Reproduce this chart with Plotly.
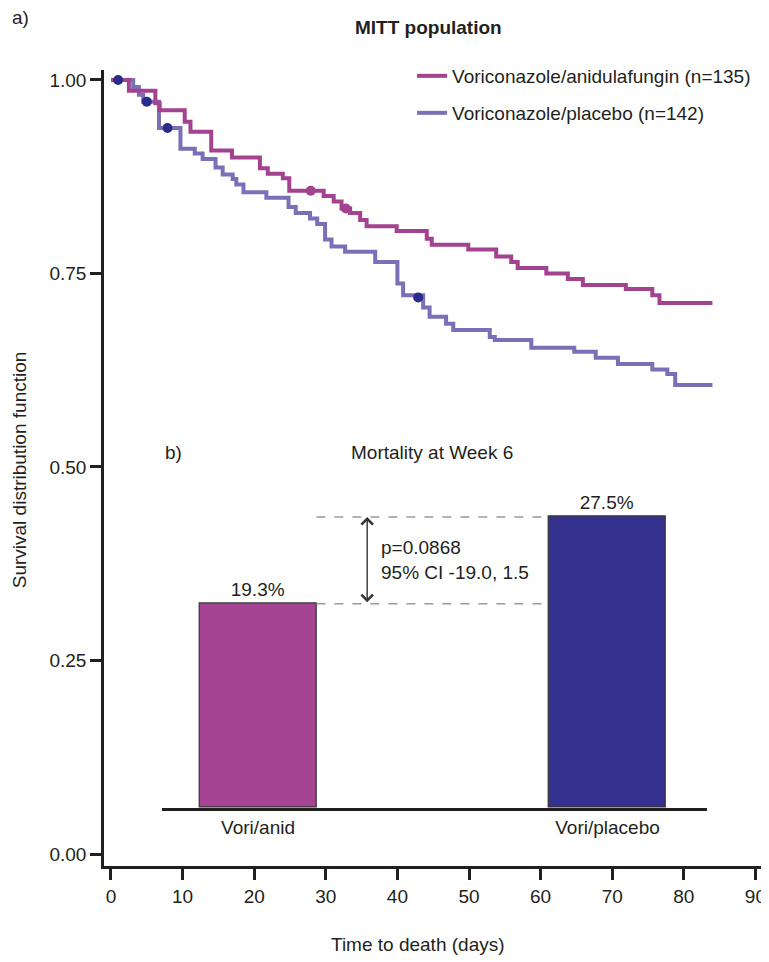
import plotly.graph_objects as go

# ---------------- data ----------------
anid_t = [0, 2.5, 6.2, 6.8, 10.3, 11.1, 14.0, 16.9, 20.8, 21.9, 24.0, 24.9,
          29.7, 31.1, 32.2, 33.4, 34.8, 35.7, 39.9, 44.1, 44.8, 49.9, 53.8,
          55.9, 56.8, 60.8, 63.8, 65.9, 71.9, 75.6, 76.6, 84.0]
anid_s = [1.000, 0.986, 0.970, 0.961, 0.946, 0.933, 0.909, 0.900, 0.886, 0.879,
          0.873, 0.857, 0.850, 0.843, 0.834, 0.828, 0.819, 0.811, 0.805, 0.795,
          0.787, 0.781, 0.772, 0.765, 0.757, 0.750, 0.743, 0.735, 0.730, 0.722,
          0.712, 0.712]

plac_t = [0, 3.1, 3.9, 4.5, 6.7, 9.7, 11.7, 12.8, 14.6, 15.6, 17.0, 17.5, 18.5,
          21.7, 24.8, 25.8, 27.8, 28.8, 29.9, 30.8, 32.7, 36.9, 40.0, 40.8,
          43.6, 44.5, 46.8, 47.8, 52.9, 53.6, 58.7, 64.7, 67.7, 70.8, 75.6,
          77.7, 78.8, 84.0]
plac_s = [1.000, 0.991, 0.981, 0.972, 0.938, 0.911, 0.905, 0.898, 0.887, 0.878,
          0.872, 0.865, 0.855, 0.848, 0.836, 0.828, 0.821, 0.814, 0.794, 0.785,
          0.778, 0.765, 0.737, 0.722, 0.706, 0.694, 0.685, 0.677, 0.668, 0.664,
          0.654, 0.649, 0.641, 0.633, 0.626, 0.620, 0.606, 0.606]

anid_cens_t = [27.9, 32.8]
anid_cens_s = [0.857, 0.834]
plac_cens_t = [1.0, 5.0, 7.9, 42.9]
plac_cens_s = [1.000, 0.972, 0.938, 0.719]

bar_groups = ["Vori/anid", "Vori/placebo"]
bar_values = [19.3, 27.5]
bar_labels = ["19.3%", "27.5%"]

x_ticks = [0, 10, 20, 30, 40, 50, 60, 70, 80, 90]
y_ticks = [0.00, 0.25, 0.50, 0.75, 1.00]

names = ["Voriconazole/anidulafungin (n=135)", "Voriconazole/placebo (n=142)"]

# ---------------- style ----------------
MAG = "#A3428F"
PLAC = "#7A70B8"
NAVY = "#2C2A8A"
BAR_ANID = "#A44493"
BAR_PLAC = "#35318F"
INK = "#231F20"
FONT = "Liberation Sans, Arial, sans-serif"
FS = 19

fig = go.Figure()

fig.add_trace(go.Scatter(
    x=plac_t, y=plac_s, mode="lines", name=names[1], legend="legend2",
    line=dict(shape="hv", color=PLAC, width=4)))
fig.add_trace(go.Scatter(
    x=anid_t, y=anid_s, mode="lines", name=names[0], legend="legend",
    line=dict(shape="hv", color=MAG, width=4)))
fig.add_trace(go.Scatter(
    x=anid_cens_t, y=anid_cens_s, mode="markers", showlegend=False,
    marker=dict(color=MAG, size=10)))
fig.add_trace(go.Scatter(
    x=plac_cens_t, y=plac_cens_s, mode="markers", showlegend=False,
    marker=dict(color=NAVY, size=10)))

BAR_W = 0.334
fig.add_trace(go.Bar(
    x=bar_groups, y=bar_values, xaxis="x2", yaxis="y2", width=BAR_W,
    marker=dict(color=[BAR_ANID, BAR_PLAC], line=dict(color="#333333", width=1.2)),
    text=bar_labels, textposition="outside", cliponaxis=False,
    textfont=dict(family=FONT, size=FS, color=INK), showlegend=False))

# dashed reference lines at the bar tops, between the bars
for v in bar_values:
    fig.add_shape(type="line", xref="x2", yref="y2",
                  x0=0 + BAR_W / 2, x1=1 - BAR_W / 2, y0=v, y1=v,
                  line=dict(color="#9A9A9A", width=1.3, dash="dash"))

# double-headed arrow between the two values
fig.add_annotation(xref="x2", yref="y2", axref="x2", ayref="y2",
                   x=0.3124, y=bar_values[1], ax=0.3124, ay=bar_values[0],
                   text="", showarrow=True, arrowside="end+start",
                   arrowhead=4, startarrowhead=4, arrowsize=1.6, startarrowsize=1.6,
                   arrowwidth=1.4, arrowcolor="#333333")
fig.add_annotation(xref="x2", yref="y2", x=0.345, y=(bar_values[0] + bar_values[1]) / 2,
                   text="p=0.0868<br>95% CI -19.0, 1.5", showarrow=False,
                   xanchor="left", yanchor="middle", align="left",
                   font=dict(family=FONT, size=FS, color=INK))

# text annotations
ann = [
    dict(text="a)", x=-0.142, y=1.066, xanchor="left"),
    dict(text="<b>MITT population</b>", x=0.4924, y=1.0528, xanchor="center"),
    dict(text="b)", x=0.0891, y=0.520, xanchor="left"),
    dict(text="Mortality at Week 6", x=0.497, y=0.520, xanchor="center"),
    dict(text="Time to death (days)", x=0.4758, y=-0.0992, xanchor="center"),
]
for a in ann:
    fig.add_annotation(xref="paper", yref="paper", showarrow=False, yanchor="middle",
                       font=dict(family=FONT, size=FS, color=INK), **a)
fig.add_annotation(xref="paper", yref="paper", showarrow=False,
                   text="Survival distribution function", textangle=-90,
                   x=-0.1269, y=0.4975, xanchor="center", yanchor="middle",
                   font=dict(family=FONT, size=FS, color=INK))

axis_common = dict(showgrid=False, zeroline=False, showline=True, linecolor=INK,
                   linewidth=2.5, ticks="outside", ticklen=11, tickwidth=2.5,
                   tickcolor=INK, tickfont=dict(family=FONT, size=FS, color=INK))

# the page body has an 8 px margin, so the figure is 8 px smaller each way
fig.update_layout(
    width=761, height=954,
    margin=dict(l=96, r=3, t=62, b=96),
    paper_bgcolor="white", plot_bgcolor="white",
    font=dict(family=FONT, size=FS, color=INK),
    xaxis=dict(range=[-0.975, 91.2], tickvals=x_ticks, **axis_common),
    yaxis=dict(range=[-0.0155, 1.0129], tickvals=y_ticks, tickformat=".2f", **axis_common),
    xaxis2=dict(domain=[0.0876, 0.9139], anchor="y2", type="category",
                range=[-0.2753, 1.2853], showgrid=False, zeroline=False,
                showline=True, linecolor=INK, linewidth=2.5, ticks="",
                tickfont=dict(family=FONT, size=FS, color=INK)),
    yaxis2=dict(domain=[0.0729, 0.4717], anchor="x2", range=[0, 30], visible=False),
    legend=dict(x=0.4668, y=0.9925, xanchor="left", yanchor="middle",
                bgcolor="rgba(0,0,0,0)", font=dict(family=FONT, size=FS, color=INK),
                itemwidth=30),
    legend2=dict(x=0.4668, y=0.946, xanchor="left", yanchor="middle",
                 bgcolor="rgba(0,0,0,0)", font=dict(family=FONT, size=FS, color=INK),
                 itemwidth=30),
    bargap=0,
)

fig.write_html("out.html")
